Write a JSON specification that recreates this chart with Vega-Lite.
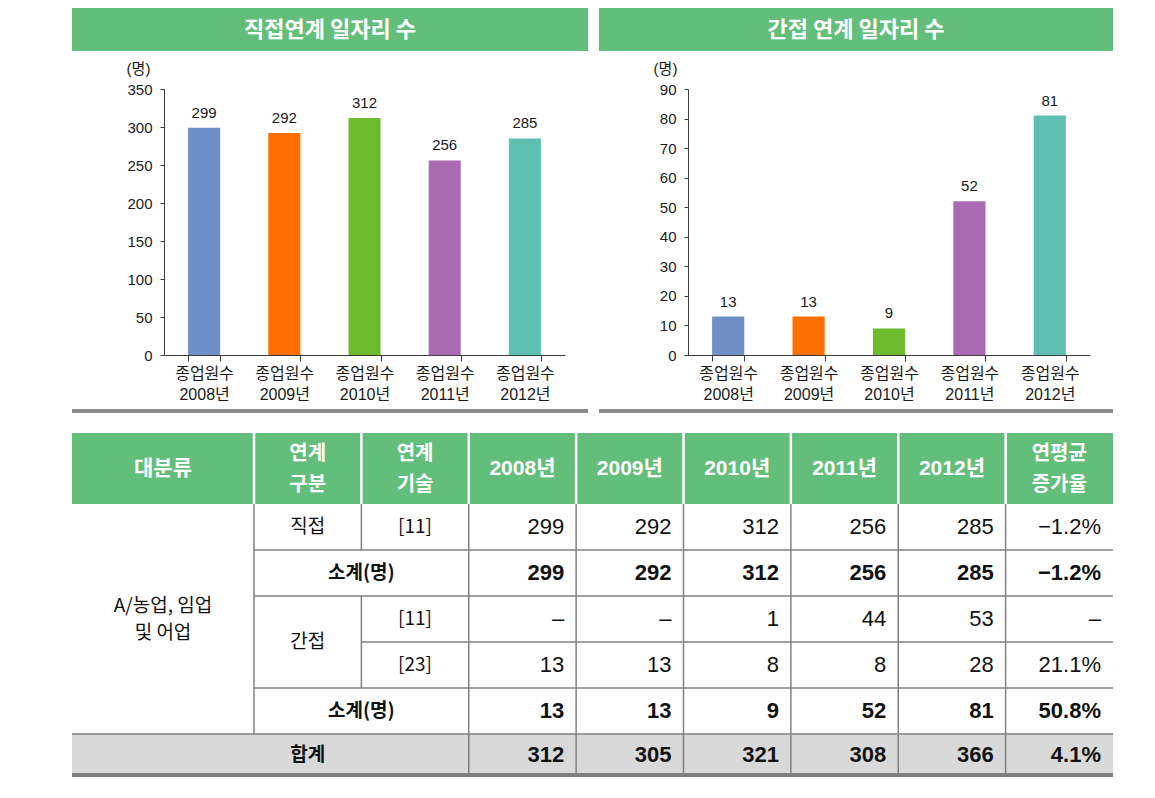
{
  "$schema": "https://vega.github.io/schema/vega-lite/v6.json",
  "padding": {"left": 70, "top": 8, "right": 0, "bottom": 0},
  "autosize": {"type": "pad"},
  "background": "white",
  "config": {
    "view": {"stroke": null},
    "font": "Liberation Sans, Noto Sans CJK KR",
    "axis": {"labelFont": "Liberation Sans, Noto Sans CJK KR", "titleFont": "Liberation Sans, Noto Sans CJK KR"}
  },
  "datasets": {
    "bars": [
      {"panel": "직접", "연도": "2008년", "일자리": 299},
      {"panel": "직접", "연도": "2009년", "일자리": 292},
      {"panel": "직접", "연도": "2010년", "일자리": 312},
      {"panel": "직접", "연도": "2011년", "일자리": 256},
      {"panel": "직접", "연도": "2012년", "일자리": 285},
      {"panel": "간접", "연도": "2008년", "일자리": 13},
      {"panel": "간접", "연도": "2009년", "일자리": 13},
      {"panel": "간접", "연도": "2010년", "일자리": 9},
      {"panel": "간접", "연도": "2011년", "일자리": 52},
      {"panel": "간접", "연도": "2012년", "일자리": 81}
    ],
    "bands": [
      {"panel": "직접", "제목": "직접연계 일자리 수"},
      {"panel": "간접", "제목": "간접 연계 일자리 수"}
    ],
    "cells": [
      {"c0": 0, "c1": 1, "r0": 0, "r1": 1, "kind": "head", "type": "label", "text": "대분류"},
      {"c0": 1, "c1": 2, "r0": 0, "r1": 1, "kind": "head", "type": "label", "text": "연계\n구분"},
      {"c0": 2, "c1": 3, "r0": 0, "r1": 1, "kind": "head", "type": "label", "text": "연계\n기술"},
      {"c0": 3, "c1": 4, "r0": 0, "r1": 1, "kind": "head", "type": "label", "text": "2008년"},
      {"c0": 4, "c1": 5, "r0": 0, "r1": 1, "kind": "head", "type": "label", "text": "2009년"},
      {"c0": 5, "c1": 6, "r0": 0, "r1": 1, "kind": "head", "type": "label", "text": "2010년"},
      {"c0": 6, "c1": 7, "r0": 0, "r1": 1, "kind": "head", "type": "label", "text": "2011년"},
      {"c0": 7, "c1": 8, "r0": 0, "r1": 1, "kind": "head", "type": "label", "text": "2012년"},
      {"c0": 8, "c1": 9, "r0": 0, "r1": 1, "kind": "head", "type": "label", "text": "연평균\n증가율"},
      {"c0": 0, "c1": 1, "r0": 1, "r1": 6, "kind": "body", "type": "label", "text": "A/농업, 임업\n및 어업"},
      {"c0": 1, "c1": 2, "r0": 1, "r1": 2, "kind": "body", "type": "label", "text": "직접"},
      {"c0": 2, "c1": 3, "r0": 1, "r1": 2, "kind": "body", "type": "label", "text": "[11]"},
      {"c0": 3, "c1": 4, "r0": 1, "r1": 2, "kind": "body", "type": "num", "text": "299"},
      {"c0": 4, "c1": 5, "r0": 1, "r1": 2, "kind": "body", "type": "num", "text": "292"},
      {"c0": 5, "c1": 6, "r0": 1, "r1": 2, "kind": "body", "type": "num", "text": "312"},
      {"c0": 6, "c1": 7, "r0": 1, "r1": 2, "kind": "body", "type": "num", "text": "256"},
      {"c0": 7, "c1": 8, "r0": 1, "r1": 2, "kind": "body", "type": "num", "text": "285"},
      {"c0": 8, "c1": 9, "r0": 1, "r1": 2, "kind": "body", "type": "num", "text": "−1.2%"},
      {"c0": 1, "c1": 3, "r0": 2, "r1": 3, "kind": "sub", "type": "label", "text": "소계(명)"},
      {"c0": 3, "c1": 4, "r0": 2, "r1": 3, "kind": "sub", "type": "num", "text": "299"},
      {"c0": 4, "c1": 5, "r0": 2, "r1": 3, "kind": "sub", "type": "num", "text": "292"},
      {"c0": 5, "c1": 6, "r0": 2, "r1": 3, "kind": "sub", "type": "num", "text": "312"},
      {"c0": 6, "c1": 7, "r0": 2, "r1": 3, "kind": "sub", "type": "num", "text": "256"},
      {"c0": 7, "c1": 8, "r0": 2, "r1": 3, "kind": "sub", "type": "num", "text": "285"},
      {"c0": 8, "c1": 9, "r0": 2, "r1": 3, "kind": "sub", "type": "num", "text": "−1.2%"},
      {"c0": 1, "c1": 2, "r0": 3, "r1": 5, "kind": "body", "type": "label", "text": "간접"},
      {"c0": 2, "c1": 3, "r0": 3, "r1": 4, "kind": "body", "type": "label", "text": "[11]"},
      {"c0": 3, "c1": 4, "r0": 3, "r1": 4, "kind": "body", "type": "num", "text": "–"},
      {"c0": 4, "c1": 5, "r0": 3, "r1": 4, "kind": "body", "type": "num", "text": "–"},
      {"c0": 5, "c1": 6, "r0": 3, "r1": 4, "kind": "body", "type": "num", "text": "1"},
      {"c0": 6, "c1": 7, "r0": 3, "r1": 4, "kind": "body", "type": "num", "text": "44"},
      {"c0": 7, "c1": 8, "r0": 3, "r1": 4, "kind": "body", "type": "num", "text": "53"},
      {"c0": 8, "c1": 9, "r0": 3, "r1": 4, "kind": "body", "type": "num", "text": "–"},
      {"c0": 2, "c1": 3, "r0": 4, "r1": 5, "kind": "body", "type": "label", "text": "[23]"},
      {"c0": 3, "c1": 4, "r0": 4, "r1": 5, "kind": "body", "type": "num", "text": "13"},
      {"c0": 4, "c1": 5, "r0": 4, "r1": 5, "kind": "body", "type": "num", "text": "13"},
      {"c0": 5, "c1": 6, "r0": 4, "r1": 5, "kind": "body", "type": "num", "text": "8"},
      {"c0": 6, "c1": 7, "r0": 4, "r1": 5, "kind": "body", "type": "num", "text": "8"},
      {"c0": 7, "c1": 8, "r0": 4, "r1": 5, "kind": "body", "type": "num", "text": "28"},
      {"c0": 8, "c1": 9, "r0": 4, "r1": 5, "kind": "body", "type": "num", "text": "21.1%"},
      {"c0": 1, "c1": 3, "r0": 5, "r1": 6, "kind": "sub", "type": "label", "text": "소계(명)"},
      {"c0": 3, "c1": 4, "r0": 5, "r1": 6, "kind": "sub", "type": "num", "text": "13"},
      {"c0": 4, "c1": 5, "r0": 5, "r1": 6, "kind": "sub", "type": "num", "text": "13"},
      {"c0": 5, "c1": 6, "r0": 5, "r1": 6, "kind": "sub", "type": "num", "text": "9"},
      {"c0": 6, "c1": 7, "r0": 5, "r1": 6, "kind": "sub", "type": "num", "text": "52"},
      {"c0": 7, "c1": 8, "r0": 5, "r1": 6, "kind": "sub", "type": "num", "text": "81"},
      {"c0": 8, "c1": 9, "r0": 5, "r1": 6, "kind": "sub", "type": "num", "text": "50.8%"},
      {"c0": 0, "c1": 3, "r0": 6, "r1": 7, "kind": "total", "type": "label", "text": "합계"},
      {"c0": 3, "c1": 4, "r0": 6, "r1": 7, "kind": "total", "type": "num", "text": "312"},
      {"c0": 4, "c1": 5, "r0": 6, "r1": 7, "kind": "total", "type": "num", "text": "305"},
      {"c0": 5, "c1": 6, "r0": 6, "r1": 7, "kind": "total", "type": "num", "text": "321"},
      {"c0": 6, "c1": 7, "r0": 6, "r1": 7, "kind": "total", "type": "num", "text": "308"},
      {"c0": 7, "c1": 8, "r0": 6, "r1": 7, "kind": "total", "type": "num", "text": "366"},
      {"c0": 8, "c1": 9, "r0": 6, "r1": 7, "kind": "total", "type": "num", "text": "4.1%"}
    ],
    "lines": [
      {"c0": 1, "c1": 9, "r0": 2, "r1": 2, "kind": "grid"},
      {"c0": 1, "c1": 9, "r0": 3, "r1": 3, "kind": "grid"},
      {"c0": 2, "c1": 9, "r0": 4, "r1": 4, "kind": "grid"},
      {"c0": 1, "c1": 9, "r0": 5, "r1": 5, "kind": "grid"},
      {"c0": 0, "c1": 9, "r0": 6, "r1": 6, "kind": "grid"},
      {"c0": 1, "c1": 1, "r0": 1, "r1": 6, "kind": "grid"},
      {"c0": 2, "c1": 2, "r0": 1, "r1": 2, "kind": "grid"},
      {"c0": 2, "c1": 2, "r0": 3, "r1": 5, "kind": "grid"},
      {"c0": 3, "c1": 3, "r0": 1, "r1": 7, "kind": "grid"},
      {"c0": 4, "c1": 4, "r0": 1, "r1": 7, "kind": "grid"},
      {"c0": 5, "c1": 5, "r0": 1, "r1": 7, "kind": "grid"},
      {"c0": 6, "c1": 6, "r0": 1, "r1": 7, "kind": "grid"},
      {"c0": 7, "c1": 7, "r0": 1, "r1": 7, "kind": "grid"},
      {"c0": 8, "c1": 8, "r0": 1, "r1": 7, "kind": "grid"},
      {"c0": 0, "c1": 9, "r0": 7, "r1": 7, "kind": "bottom"},
      {"c0": 1, "c1": 1, "r0": 0, "r1": 1, "kind": "sep"},
      {"c0": 2, "c1": 2, "r0": 0, "r1": 1, "kind": "sep"},
      {"c0": 3, "c1": 3, "r0": 0, "r1": 1, "kind": "sep"},
      {"c0": 4, "c1": 4, "r0": 0, "r1": 1, "kind": "sep"},
      {"c0": 5, "c1": 5, "r0": 0, "r1": 1, "kind": "sep"},
      {"c0": 6, "c1": 6, "r0": 0, "r1": 1, "kind": "sep"},
      {"c0": 7, "c1": 7, "r0": 0, "r1": 1, "kind": "sep"},
      {"c0": 8, "c1": 8, "r0": 0, "r1": 1, "kind": "sep"}
    ]
  },
  "spacing": 7,
  "vconcat": [
    {
      "spacing": 10,
      "vconcat": [
        {
          "spacing": 11,
          "hconcat": [
            {
              "width": 516, "height": 43,
              "data": {"name": "bands"},
              "transform": [{"filter": "datum.panel === '직접'"}],
              "layer": [
                {"mark": {"type": "rect", "fill": "#63BE7B"}},
                {"mark": {"type": "text", "color": "white", "fontWeight": "bold", "fontSize": 22, "font": "Noto Sans CJK KR"}, "encoding": {"text": {"field": "제목"}}}
              ]
            },
            {
              "width": 514, "height": 43,
              "data": {"name": "bands"},
              "transform": [{"filter": "datum.panel === '간접'"}],
              "layer": [
                {"mark": {"type": "rect", "fill": "#63BE7B"}},
                {"mark": {"type": "text", "color": "white", "fontWeight": "bold", "fontSize": 22, "font": "Noto Sans CJK KR"}, "encoding": {"text": {"field": "제목"}}}
              ]
            }
          ]
        },
        {
          "spacing": 0,
          "bounds": "flush",
          "hconcat": [
            {
              "width": 92, "height": 266,
              "data": {"name": "bands"},
              "transform": [{"filter": "datum.panel === '직접'"}],
              "mark": {"type": "rect", "fill": "white"}
            },
            {
              "width": 401, "height": 266,
              "data": {"name": "bars"},
              "transform": [{"filter": "datum.panel === '직접'"}],
              "encoding": {
                "x": {
                  "field": "연도", "type": "nominal", "sort": null,
                  "scale": {"paddingInner": 0.6, "paddingOuter": 0.3},
                  "axis": {"title": null, "labelAngle": 0, "labelExpr": "datum.label ? ['종업원수', datum.label] : ''", "tickBand": "extent", "tickSize": 6, "labelPadding": 4, "labelFontSize": 16, "labelLineHeight": 21, "labelColor": "#1a1a1a", "domainColor": "#3a3a3a", "tickColor": "#3a3a3a"}
                },
                "y": {
                  "field": "일자리", "type": "quantitative",
                  "scale": {"domain": [0, 350], "nice": false},
                  "axis": {"title": "(명)", "titleAngle": 0, "titleX": -26, "titleY": -21, "titleAlign": "center", "titleBaseline": "middle", "titleFontWeight": "normal", "titleFontSize": 15, "titleColor": "#1a1a1a", "values": [0, 50, 100, 150, 200, 250, 300, 350], "grid": false, "tickSize": 4, "labelPadding": 8, "labelFontSize": 15, "labelColor": "#1a1a1a", "domainColor": "#3a3a3a", "tickColor": "#3a3a3a"}
                }
              },
              "layer": [
                {
                  "mark": {"type": "bar"},
                  "encoding": {"color": {"field": "연도", "type": "nominal", "scale": {"domain": ["2008년", "2009년", "2010년", "2011년", "2012년"], "range": ["#6F8FC7", "#FF6F00", "#6DBB2D", "#AA6BB3", "#5EC0B0"]}, "legend": null}}
                },
                {
                  "mark": {"type": "text", "baseline": "bottom", "dy": -7, "fontSize": 15, "color": "#1a1a1a"},
                  "encoding": {"text": {"field": "일자리", "type": "quantitative"}}
                }
              ]
            },
            {
              "width": 123, "height": 266,
              "data": {"name": "bands"},
              "transform": [{"filter": "datum.panel === '간접'"}],
              "mark": {"type": "rect", "fill": "white"}
            },
            {
              "width": 402, "height": 266,
              "data": {"name": "bars"},
              "transform": [{"filter": "datum.panel === '간접'"}],
              "encoding": {
                "x": {
                  "field": "연도", "type": "nominal", "sort": null,
                  "scale": {"paddingInner": 0.6, "paddingOuter": 0.3},
                  "axis": {"title": null, "labelAngle": 0, "labelExpr": "datum.label ? ['종업원수', datum.label] : ''", "tickBand": "extent", "tickSize": 6, "labelPadding": 4, "labelFontSize": 16, "labelLineHeight": 21, "labelColor": "#1a1a1a", "domainColor": "#3a3a3a", "tickColor": "#3a3a3a"}
                },
                "y": {
                  "field": "일자리", "type": "quantitative",
                  "scale": {"domain": [0, 90], "nice": false},
                  "axis": {"title": "(명)", "titleAngle": 0, "titleX": -23, "titleY": -21, "titleAlign": "center", "titleBaseline": "middle", "titleFontWeight": "normal", "titleFontSize": 15, "titleColor": "#1a1a1a", "values": [0, 10, 20, 30, 40, 50, 60, 70, 80, 90], "grid": false, "tickSize": 4, "labelPadding": 8, "labelFontSize": 15, "labelColor": "#1a1a1a", "domainColor": "#3a3a3a", "tickColor": "#3a3a3a"}
                }
              },
              "layer": [
                {
                  "mark": {"type": "bar"},
                  "encoding": {"color": {"field": "연도", "type": "nominal", "scale": {"domain": ["2008년", "2009년", "2010년", "2011년", "2012년"], "range": ["#6F8FC7", "#FF6F00", "#6DBB2D", "#AA6BB3", "#5EC0B0"]}, "legend": null}}
                },
                {
                  "mark": {"type": "text", "baseline": "bottom", "dy": -7, "fontSize": 15, "color": "#1a1a1a"},
                  "encoding": {"text": {"field": "일자리", "type": "quantitative"}}
                }
              ]
            }
          ]
        }
      ]
    },
    {
      "spacing": 18,
      "vconcat": [
        {
          "spacing": 11,
          "hconcat": [
            {
              "width": 516, "height": 4,
              "data": {"name": "bands"},
              "transform": [{"filter": "datum.panel === '직접'"}],
              "mark": {"type": "rect", "fill": "#8A8A8A"}
            },
            {
              "width": 514, "height": 4,
              "data": {"name": "bands"},
              "transform": [{"filter": "datum.panel === '간접'"}],
              "mark": {"type": "rect", "fill": "#8A8A8A"}
            }
          ]
        },
        {
          "width": 1041, "height": 343,
          "layer": [
            {
              "data": {"name": "cells"},
              "mark": {"type": "rect"},
              "encoding": {
                "x": {"field": "c0", "type": "quantitative", "scale": {"domain": [0, 1, 9], "range": [0, 182, 1041]}, "axis": null},
                "x2": {"field": "c1"},
                "y": {"field": "r0", "type": "quantitative", "scale": {"domain": [0, 1, 6, 7], "range": [0, 71, 301, 342]}, "axis": null},
                "y2": {"field": "r1"},
                "fill": {"field": "kind", "type": "nominal", "scale": {"domain": ["head", "body", "sub", "total"], "range": ["#63BE7B", "#FFFFFF", "#FFFFFF", "#D9D9D9"]}, "legend": null}
              }
            },
            {
              "data": {"name": "lines"},
              "transform": [{"filter": "datum.kind === 'grid'"}],
              "mark": {"type": "rule", "color": "#808080", "strokeWidth": 1.5},
              "encoding": {
                "x": {"field": "c0", "type": "quantitative"}, "x2": {"field": "c1"},
                "y": {"field": "r0", "type": "quantitative"}, "y2": {"field": "r1"}
              }
            },
            {
              "data": {"name": "lines"},
              "transform": [{"filter": "datum.kind === 'sep'"}],
              "mark": {"type": "rule", "color": "#FFFFFF", "strokeWidth": 2.5},
              "encoding": {
                "x": {"field": "c0", "type": "quantitative"}, "x2": {"field": "c1"},
                "y": {"field": "r0", "type": "quantitative"}, "y2": {"field": "r1"}
              }
            },
            {
              "data": {"name": "lines"},
              "transform": [{"filter": "datum.kind === 'bottom'"}],
              "mark": {"type": "rule", "color": "#7F7F7F", "strokeWidth": 4},
              "encoding": {
                "x": {"field": "c0", "type": "quantitative"}, "x2": {"field": "c1"},
                "y": {"field": "r0", "type": "quantitative"}, "y2": {"field": "r1"}
              }
            },
            {
              "data": {"name": "cells"},
              "transform": [
                {"filter": "datum.kind === 'head' && indexof(datum.text, '\\n') < 0"},
                {"calculate": "(datum.c0 + datum.c1) / 2", "as": "xm"},
                {"calculate": "(datum.r0 + datum.r1) / 2", "as": "ym"}
              ],
              "mark": {"type": "text", "color": "white", "fontWeight": "bold", "fontSize": 21, "baseline": "middle", "align": "center", "font": "Liberation Sans, Noto Sans CJK KR"},
              "encoding": {
                "x": {"field": "xm", "type": "quantitative"},
                "y": {"field": "ym", "type": "quantitative"},
                "text": {"field": "text"}
              }
            },
            {
              "data": {"name": "cells"},
              "transform": [
                {"filter": "datum.kind === 'head' && indexof(datum.text, '\\n') >= 0"},
                {"calculate": "(datum.c0 + datum.c1) / 2", "as": "xm"},
                {"calculate": "(datum.r0 + datum.r1) / 2", "as": "ym"}
              ],
              "mark": {"type": "text", "color": "white", "fontWeight": "bold", "fontSize": 20, "lineBreak": "\n", "lineHeight": 31, "dy": -15, "baseline": "middle", "align": "center", "font": "Liberation Sans, Noto Sans CJK KR"},
              "encoding": {
                "x": {"field": "xm", "type": "quantitative"},
                "y": {"field": "ym", "type": "quantitative"},
                "text": {"field": "text"}
              }
            },
            {
              "data": {"name": "cells"},
              "transform": [
                {"filter": "datum.kind === 'body' && datum.type === 'label' && indexof(datum.text, '\\n') < 0"},
                {"calculate": "(datum.c0 + datum.c1) / 2", "as": "xm"},
                {"calculate": "(datum.r0 + datum.r1) / 2", "as": "ym"}
              ],
              "mark": {"type": "text", "color": "#111111", "fontSize": 19, "baseline": "middle", "align": "center", "font": "Noto Sans CJK KR"},
              "encoding": {
                "x": {"field": "xm", "type": "quantitative"},
                "y": {"field": "ym", "type": "quantitative"},
                "text": {"field": "text"}
              }
            },
            {
              "data": {"name": "cells"},
              "transform": [
                {"filter": "datum.kind === 'body' && datum.type === 'label' && indexof(datum.text, '\\n') >= 0"},
                {"calculate": "(datum.c0 + datum.c1) / 2", "as": "xm"},
                {"calculate": "(datum.r0 + datum.r1) / 2", "as": "ym"}
              ],
              "mark": {"type": "text", "color": "#111111", "fontSize": 19, "lineBreak": "\n", "lineHeight": 27, "dy": -13, "baseline": "middle", "align": "center", "font": "Noto Sans CJK KR"},
              "encoding": {
                "x": {"field": "xm", "type": "quantitative"},
                "y": {"field": "ym", "type": "quantitative"},
                "text": {"field": "text"}
              }
            },
            {
              "data": {"name": "cells"},
              "transform": [
                {"filter": "datum.kind !== 'body' && datum.kind !== 'head' && datum.type === 'label'"},
                {"calculate": "(datum.c0 + datum.c1) / 2", "as": "xm"},
                {"calculate": "(datum.r0 + datum.r1) / 2", "as": "ym"}
              ],
              "mark": {"type": "text", "color": "#111111", "fontSize": 19, "fontWeight": "bold", "baseline": "middle", "align": "center", "font": "Noto Sans CJK KR"},
              "encoding": {
                "x": {"field": "xm", "type": "quantitative"},
                "y": {"field": "ym", "type": "quantitative"},
                "text": {"field": "text"}
              }
            },
            {
              "data": {"name": "cells"},
              "transform": [
                {"filter": "datum.kind === 'body' && datum.type === 'num'"},
                {"calculate": "(datum.r0 + datum.r1) / 2", "as": "ym"}
              ],
              "mark": {"type": "text", "color": "#111111", "fontSize": 22, "baseline": "middle", "align": "right", "dx": -12, "font": "Liberation Sans Narrow, Liberation Sans, Noto Sans CJK KR"},
              "encoding": {
                "x": {"field": "c1", "type": "quantitative"},
                "y": {"field": "ym", "type": "quantitative"},
                "text": {"field": "text"}
              }
            },
            {
              "data": {"name": "cells"},
              "transform": [
                {"filter": "datum.kind !== 'body' && datum.kind !== 'head' && datum.type === 'num'"},
                {"calculate": "(datum.r0 + datum.r1) / 2", "as": "ym"}
              ],
              "mark": {"type": "text", "color": "#111111", "fontSize": 22, "fontWeight": "bold", "baseline": "middle", "align": "right", "dx": -12, "font": "Liberation Sans Narrow, Liberation Sans, Noto Sans CJK KR"},
              "encoding": {
                "x": {"field": "c1", "type": "quantitative"},
                "y": {"field": "ym", "type": "quantitative"},
                "text": {"field": "text"}
              }
            }
          ]
        }
      ]
    }
  ]
}
